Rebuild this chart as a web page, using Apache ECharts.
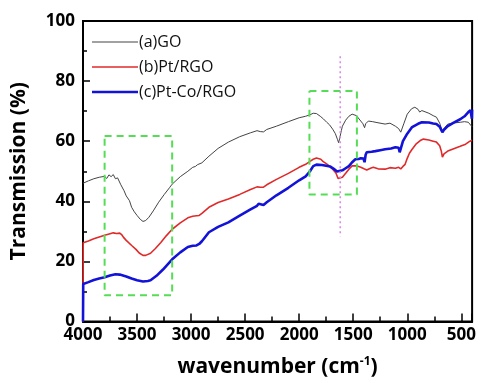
<!DOCTYPE html>
<html>
<head>
<meta charset="utf-8">
<script src="https://cdn.jsdelivr.net/npm/echarts@6/dist/echarts.min.js"></script>
<style>
  html, body { margin: 0; padding: 0; background: #fff; }
  #chart { width: 492px; height: 383px; }
</style>
</head>
<body>
<div id="chart"></div>
<script>
// FTIR spectra: wavenumber (cm^-1) vs transmission (%)
const seriesNames = ['(a)GO', '(b)Pt/RGO', '(c)Pt-Co/RGO'];

const goWn = [4000,3950,3900,3850,3800,3780,3760,3740,3720,3700,3680,3650,3620,3600,3570,3550,3525,3500,3470,3445,3420,3390,3350,3300,3250,3200,3175,3100,3030,2985,2960,2940,2925,2900,2835,2750,2655,2550,2450,2390,2375,2360,2330,2300,2210,2100,2000,1940,1900,1870,1840,1805,1775,1745,1720,1690,1665,1645,1635,1625,1610,1600,1570,1540,1510,1495,1470,1430,1410,1395,1385,1360,1320,1280,1205,1160,1110,1080,1060,1045,1030,1000,960,930,900,885,865,850,800,760,730,700,675,655,625,560,510,470,435,410,400];
const goT = [46,46.8,47.5,48,48.3,47.6,48.8,48.2,48.9,47.5,47.8,45.5,43.5,41.8,40.2,38,36.5,35.3,34,33.3,33.6,34.7,36.8,39.7,42.2,44.5,45.7,48.2,50,51.3,51.6,52.2,52.4,52.8,55,57.6,59.7,61.5,62.8,63.5,64.1,63.2,63.1,63.9,65,66.5,67.8,68.3,68.8,69.3,69.2,68.3,67.4,66.3,65.5,64,62.5,60.5,59.5,61,63.5,65,67,68.3,69,69.2,68.5,66.7,65.8,64.5,65.8,66.7,66.5,66.2,65.7,66,65,64.2,63,63.3,66,69,70.8,71.3,70.6,69.7,70.2,70.3,69.3,68.5,68,66,63.3,64.5,65.7,66.1,66.3,66.5,66.3,65.2,64.8];

const ptWn = [4000,3998,3950,3900,3850,3800,3750,3720,3690,3660,3640,3625,3600,3550,3510,3480,3445,3420,3375,3330,3280,3230,3175,3100,3030,2985,2950,2925,2900,2835,2750,2655,2550,2450,2390,2375,2360,2330,2300,2210,2100,2000,1940,1900,1870,1840,1825,1800,1780,1740,1690,1660,1640,1630,1600,1570,1540,1510,1495,1470,1430,1400,1375,1340,1315,1270,1205,1160,1110,1080,1060,1040,1020,1000,980,955,920,880,850,800,760,730,700,685,675,660,625,570,510,460,420,400];
const ptT = [0,26.2,26.8,27.5,28.1,28.7,29.2,29.5,29.3,29.4,28.8,28,27,25.3,24,22.8,22,22,22.7,24.3,26.3,28.5,30.7,32.8,34.5,35,35.2,35.3,36,38,39.6,40.8,42.3,43.9,44.8,45.4,44.7,44.7,45.5,47.3,49.3,51.3,52.3,53.3,54,54.4,54.7,54,53.3,52.3,50.7,49.4,47.6,47.3,48,49.3,50.7,51.8,52.3,51.8,51.3,50.8,50.4,51,51.3,50.8,50.7,51.2,51,51.3,50.8,51.6,52.3,54.3,56,57.3,59,60.2,60.7,60.4,60,59.7,58.5,56.7,54.7,55.8,56.7,57.5,58.3,59,60,60.3];

const ptCoWn = [4000,3998,3950,3900,3850,3800,3750,3700,3660,3600,3550,3500,3445,3400,3375,3320,3260,3175,3100,3030,2985,2950,2925,2900,2835,2750,2655,2550,2450,2390,2375,2360,2330,2300,2210,2100,2000,1940,1900,1870,1840,1825,1790,1750,1715,1680,1650,1635,1600,1570,1540,1510,1480,1450,1430,1405,1395,1385,1375,1330,1295,1250,1205,1150,1110,1080,1070,1060,1040,1000,955,900,865,800,760,730,700,675,660,625,570,510,470,435,415,405,402,400];
const ptCoT = [0,12.5,13.1,13.8,14.3,14.7,15.3,15.7,15.6,15,14.3,13.7,13.3,13.5,13.7,15.2,17.3,20.7,23,24.8,25.2,25.3,25.8,26.7,29.7,31.5,33,35.2,37.3,38.5,39.2,38.8,38.8,39.7,42,44.5,47,48.3,50,51.7,52.2,52.3,52.1,51.8,51.6,50.8,49.9,49.7,50.3,51,51.7,53,54,54.1,54.3,54.2,53,55.5,56.3,56.5,56.7,57,57.3,57.6,58,57.8,56.3,57.5,60,62.5,64.7,65.8,66.3,66.2,65.9,65.7,64.8,63,63.8,65,66.2,67.3,68.3,69.7,70.3,70.8,67.5,70.5];

// highlighted regions (dashed boxes) and the 1620 cm^-1 marker
const boxOH = { wn: [3800, 3175], t: [61.7, 8.7] };
const boxCC = { wn: [1905, 1466], t: [76.7, 42.3] };
const markerWn = 1620;
const markerT = [88.3, 28.3];

// x tick labels that get printed (the 400 end of the range stays blank)
const xTickLabels = [4000, 3500, 3000, 2500, 2000, 1500, 1000, 500];

const seriesColors = ['#444444', '#e02a2a', '#1212d8'];
const seriesWidths = [1, 1.6, 2.6];

const zip = (a, b) => a.map((v, i) => [v, b[i]]);
const rect = (b) => [[b.wn[0], b.t[0]], [b.wn[1], b.t[0]], [b.wn[1], b.t[1]], [b.wn[0], b.t[1]], [b.wn[0], b.t[0]]];

const FONT = 'Open Sans';
const chart = echarts.init(document.getElementById('chart'), null, { renderer: 'canvas' });

// plain line swatches for the legend, one thickness per series
const legendData = seriesNames.map((n, i) => ({
  name: n,
  icon: 'path://M0,0H46V' + seriesWidths[i] + 'H0Z',
  itemStyle: { color: seriesColors[i] }
}));

chart.setOption({
  animation: false,
  backgroundColor: '#fff',
  grid: { left: 83, right: 6, top: 21, bottom: 61, show: true, borderColor: '#000', borderWidth: 2, backgroundColor: 'transparent' },
  legend: {
    orient: 'vertical', left: 92, top: 34,
    data: legendData,
    itemWidth: 46, itemHeight: 14, itemGap: 9,
    padding: 0,
    textStyle: { fontFamily: FONT, fontSize: 16, color: '#111', padding: [0, 0, 0, -4] }
  },
  xAxis: {
    type: 'value', min: 400, max: 4000, inverse: true, splitNumber: 8,
    position: 'bottom',
    name: '{b|wavenumber (cm}{s|-1}{b|)}',
    nameLocation: 'middle', nameGap: 34,
    nameTextStyle: {
      rich: {
        b: { fontFamily: FONT, fontWeight: 'bold', fontSize: 21, color: '#000' },
        s: { fontFamily: FONT, fontWeight: 'bold', fontSize: 12, color: '#000', verticalAlign: 'top', padding: [0, 0, 12, 0] }
      }
    },
    axisLine: { show: true, lineStyle: { color: '#000', width: 2 } },
    axisTick: { show: true, inside: true, length: 8, lineStyle: { color: '#000', width: 1.5 } },
    minorTick: { show: true, splitNumber: 2, length: 5, lineStyle: { color: '#000', width: 1.5 } },
    axisLabel: { margin: 5, fontFamily: FONT, fontWeight: 'bold', fontSize: 17, color: '#000',
      showMinLabel: true, showMaxLabel: true,
      formatter: (v) => (xTickLabels.indexOf(v) >= 0 ? String(v) : '') },
    splitLine: { show: false }
  },
  yAxis: {
    type: 'value', min: 0, max: 100, interval: 20,
    name: 'Transmission (%)', nameLocation: 'middle', nameGap: 53,
    nameTextStyle: { fontFamily: FONT, fontWeight: 'bold', fontSize: 21, color: '#000' },
    axisLine: { show: true, lineStyle: { color: '#000', width: 2 } },
    axisTick: { show: true, inside: true, length: 7, lineStyle: { color: '#000', width: 1.5 } },
    minorTick: { show: true, splitNumber: 2, length: 4, lineStyle: { color: '#000', width: 1.5 } },
    axisLabel: { margin: 8, fontFamily: FONT, fontWeight: 'bold', fontSize: 17, color: '#000' },
    splitLine: { show: false }
  },
  series: [
    { name: seriesNames[0], type: 'line', data: zip(goWn, goT), symbol: 'none', z: 3,
      lineStyle: { color: seriesColors[0], width: seriesWidths[0] }, itemStyle: { color: seriesColors[0] } },
    { name: seriesNames[1], type: 'line', data: zip(ptWn, ptT), symbol: 'none', z: 4,
      lineStyle: { color: seriesColors[1], width: seriesWidths[1] }, itemStyle: { color: seriesColors[1] } },
    { name: seriesNames[2], type: 'line', data: zip(ptCoWn, ptCoT), symbol: 'none', z: 5,
      lineStyle: { color: seriesColors[2], width: seriesWidths[2] }, itemStyle: { color: seriesColors[2] } },
    { type: 'line', data: rect(boxOH), symbol: 'none', silent: true, z: 6,
      lineStyle: { color: '#55dd55', width: 2, type: [7, 5] } },
    { type: 'line', data: rect(boxCC), symbol: 'none', silent: true, z: 6,
      lineStyle: { color: '#55dd55', width: 2, type: [7, 5] } },
    { type: 'line', data: [[markerWn, markerT[0]], [markerWn, markerT[1]]], symbol: 'none', silent: true, z: 6,
      lineStyle: { color: '#d98ae6', width: 1.6, type: [2, 3] } }
  ]
});
</script>
</body>
</html>
